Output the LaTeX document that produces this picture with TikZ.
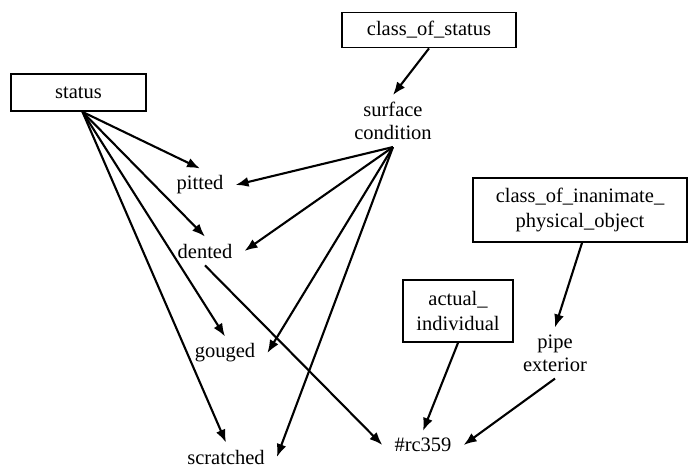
\documentclass[tikz,border=0pt]{standalone}
\usepackage{fontspec}
\setmainfont{Liberation Serif}
\usepackage{tikz}
\usetikzlibrary{arrows.meta}

\begin{document}
\begin{tikzpicture}[x=1pt,y=-1pt,
box/.style={draw,line width=1.8pt,align=center,font=\fontsize{20.5}{25}\selectfont},
lbl/.style={align=center,inner xsep=12pt,inner ysep=7pt,font=\fontsize{20.5}{23}\selectfont},
arr/.style={-{Latex[length=13pt,width=10pt]},line width=2.1pt}]
\useasboundingbox (0,0) rectangle (689,469);
\node[box,minimum width=174pt,minimum height=35pt] (cos) at (429,30) {class\_of\_status};
\node[box,minimum width=135pt,minimum height=37pt] (status) at (78.5,92.5) {status};
\node[box,minimum width=214pt,minimum height=64pt] (coi) at (580,210) {class\_of\_inanimate\_\\physical\_object};
\node[box,minimum width=110pt,minimum height=62pt] (act) at (458,311) {actual\_\\individual};
\node[lbl] (surf) at (393,121) {surface\\condition};
\node[lbl] (pit) at (200,185) {pitted};
\node[lbl] (dent) at (205,251) {dented};
\node[lbl] (goug) at (225,353) {gouged};
\node[lbl] (scr) at (226,457) {scratched};
\node[lbl] (rc) at (423,445) {\#rc359};
\node[lbl] (pipe) at (555,353) {pipe\\exterior};
\draw[arr] (cos.south) -- (surf.north);
\foreach \t in {pit,dent,goug,scr}{
\draw[arr] ([xshift=4pt]status.south) -- (\t.north);
\draw[arr] (surf.south) -- (\t.east);
}
\draw[arr] (dent.south) -- (rc.west);
\draw[arr] (act.south) -- (rc.north);
\draw[arr] ([xshift=2pt]coi.south) -- (pipe.north);
\draw[arr] (pipe.south) -- (rc.east);
\end{tikzpicture}
\end{document}
